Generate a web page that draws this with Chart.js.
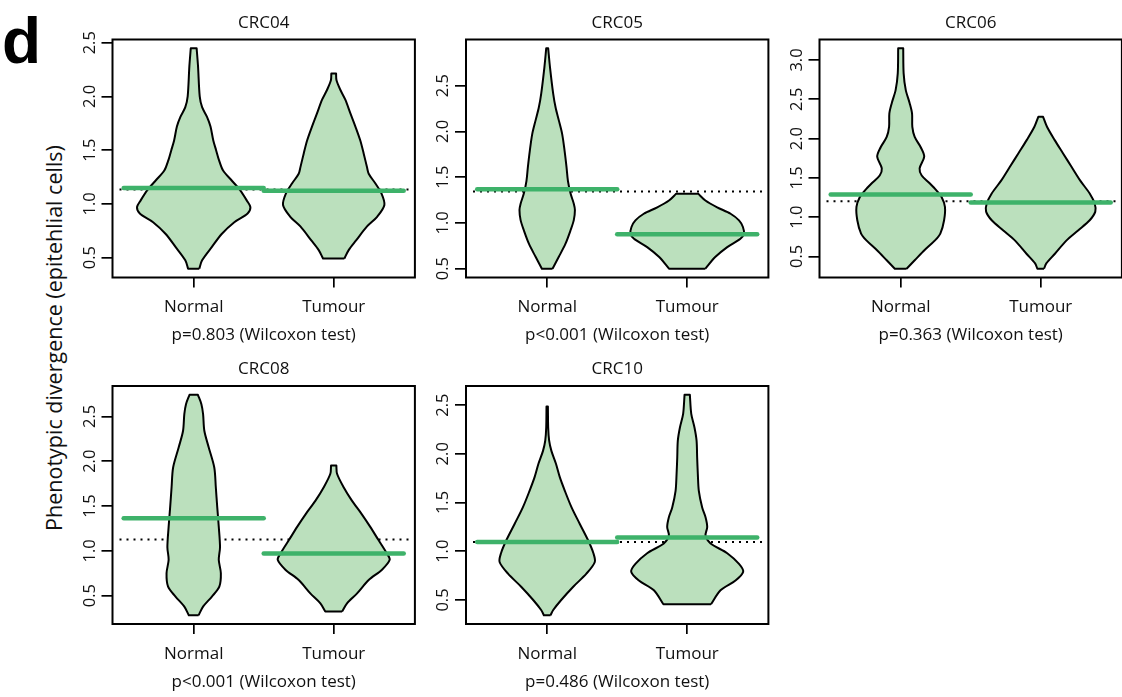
<!DOCTYPE html>
<html>
<head>
<meta charset="utf-8">
<title>Phenotypic divergence of epithelial cells</title>
<script src="https://cdn.jsdelivr.net/npm/chart.js@4.4.1/dist/chart.umd.min.js"></script>
<style>
  html, body { margin: 0; padding: 0; background: #fff; overflow: hidden; }
  #fig { position: relative; width: 1122px; height: 697px; overflow: hidden; font-family: "Open Sans", sans-serif; color: #111; }
  #fig canvas { position: absolute; }
  #tag { position: absolute; left: 2px; top: 9px; font: bold 64px/64px "Liberation Sans", Arial, sans-serif; color: #000; }
  #ylab { position: absolute; left: 53px; top: 338px; transform: translate(-50%, -50%) rotate(-90deg); white-space: nowrap; font-size: 21.5px; }
</style>
</head>
<body>
<div id="fig">
  <div id="tag">d</div>
  <div id="ylab">Phenotypic divergence (epitehlial cells)</div>
</div>
<script>
// ---- data -------------------------------------------------------------
const panelNames = ['CRC04', 'CRC05', 'CRC06', 'CRC08', 'CRC10'];
const groupNames = ['Normal', 'Tumour'];
const testLabels = [
  'p=0.803 (Wilcoxon test)',
  'p<0.001 (Wilcoxon test)',
  'p=0.363 (Wilcoxon test)',
  'p<0.001 (Wilcoxon test)',
  'p=0.486 (Wilcoxon test)'
];

// Violin outlines: divergence level (Y) and density half-width (W, in group units)
const crc04NormalY = [0.397, 0.475, 0.60, 0.72, 0.83, 0.91, 0.97, 1.03, 1.13, 1.22, 1.31, 1.41, 1.50, 1.59, 1.72, 1.81, 1.90, 2.00, 2.28, 2.448];
const crc04NormalW = [0.040, 0.060, 0.130, 0.200, 0.290, 0.385, 0.405, 0.380, 0.330, 0.270, 0.210, 0.180, 0.160, 0.140, 0.120, 0.095, 0.060, 0.043, 0.031, 0.021];
const crc04TumourY = [0.491, 0.57, 0.66, 0.79, 0.88, 0.99, 1.10, 1.19, 1.28, 1.34, 1.47, 1.59, 1.72, 1.84, 1.97, 2.06, 2.15, 2.214];
const crc04TumourW = [0.076, 0.107, 0.160, 0.238, 0.310, 0.362, 0.340, 0.298, 0.250, 0.238, 0.214, 0.190, 0.155, 0.120, 0.083, 0.048, 0.020, 0.017];

const crc05NormalY = [0.50, 0.63, 0.77, 0.92, 1.03, 1.14, 1.21, 1.32, 1.46, 1.61, 1.79, 1.97, 2.12, 2.26, 2.41, 2.70, 2.907];
const crc05NormalW = [0.038, 0.083, 0.130, 0.167, 0.190, 0.198, 0.190, 0.167, 0.148, 0.138, 0.124, 0.107, 0.083, 0.060, 0.043, 0.020, 0.007];
const crc05TumourY = [0.50, 0.627, 0.736, 0.827, 0.88, 0.955, 1.027, 1.10, 1.17, 1.245, 1.318];
const crc05TumourW = [0.130, 0.200, 0.286, 0.380, 0.405, 0.398, 0.370, 0.310, 0.214, 0.130, 0.079];

const crc06NormalY = [0.343, 0.45, 0.58, 0.70, 0.79, 0.96, 1.13, 1.256, 1.34, 1.43, 1.53, 1.62, 1.77, 1.89, 2.02, 2.15, 2.32, 2.45, 2.62, 2.83, 3.149];
const crc06NormalW = [0.042, 0.100, 0.171, 0.243, 0.283, 0.310, 0.316, 0.292, 0.255, 0.207, 0.150, 0.135, 0.168, 0.143, 0.100, 0.083, 0.081, 0.064, 0.036, 0.021, 0.018];
const crc06TumourY = [0.343, 0.41, 0.53, 0.70, 0.83, 0.96, 1.07, 1.17, 1.30, 1.47, 1.64, 1.81, 1.98, 2.15, 2.277];
const crc06TumourW = [0.024, 0.040, 0.100, 0.183, 0.267, 0.350, 0.390, 0.386, 0.350, 0.280, 0.220, 0.160, 0.100, 0.045, 0.017];

const crc08NormalY = [0.282, 0.38, 0.49, 0.60, 0.75, 0.90, 1.04, 1.27, 1.49, 1.71, 1.93, 2.156, 2.34, 2.526, 2.637, 2.741];
const crc08NormalW = [0.035, 0.068, 0.130, 0.183, 0.194, 0.179, 0.188, 0.179, 0.168, 0.158, 0.147, 0.107, 0.076, 0.067, 0.055, 0.030];
const crc08TumourY = [0.322, 0.415, 0.526, 0.674, 0.79, 0.90, 0.97, 1.12, 1.27, 1.41, 1.56, 1.71, 1.86, 1.952];
const crc08TumourW = [0.060, 0.095, 0.167, 0.250, 0.345, 0.400, 0.380, 0.320, 0.260, 0.200, 0.130, 0.071, 0.024, 0.019];

const crc10NormalY = [0.344, 0.397, 0.50, 0.636, 0.77, 0.89, 0.98, 1.11, 1.28, 1.45, 1.62, 1.76, 1.90, 2.03, 2.135, 2.27, 2.486];
const crc10NormalW = [0.024, 0.043, 0.100, 0.186, 0.280, 0.340, 0.330, 0.293, 0.233, 0.174, 0.126, 0.090, 0.062, 0.030, 0.014, 0.007, 0.005];
const crc10TumourY = [0.456, 0.60, 0.70, 0.79, 0.87, 0.98, 1.08, 1.16, 1.25, 1.35, 1.45, 1.62, 1.79, 1.965, 2.135, 2.27, 2.41, 2.605];
const crc10TumourW = [0.170, 0.238, 0.345, 0.400, 0.370, 0.286, 0.167, 0.131, 0.143, 0.131, 0.107, 0.083, 0.076, 0.071, 0.067, 0.052, 0.029, 0.019];

// Group levels (thick green bars) and the pooled level (dotted line)
const levelNormal = [1.147, 1.368, 1.287, 1.363, 1.095];
const levelTumour = [1.123, 0.877, 1.185, 0.971, 1.140];
const levelPooled = [1.135, 1.343, 1.201, 1.127, 1.096];

// Y-axis tick values per panel
const yTicks04 = [0.5, 1.0, 1.5, 2.0, 2.5];
const yTicks05 = [0.5, 1.0, 1.5, 2.0, 2.5];
const yTicks06 = [0.5, 1.0, 1.5, 2.0, 2.5, 3.0];
const yTicks08 = [0.5, 1.0, 1.5, 2.0, 2.5];
const yTicks10 = [0.5, 1.0, 1.5, 2.0, 2.5];

// ---- assembly -----------------------------------------------------------
const violinSets = [
  [[crc04NormalY, crc04NormalW], [crc04TumourY, crc04TumourW]],
  [[crc05NormalY, crc05NormalW], [crc05TumourY, crc05TumourW]],
  [[crc06NormalY, crc06NormalW], [crc06TumourY, crc06TumourW]],
  [[crc08NormalY, crc08NormalW], [crc08TumourY, crc08TumourW]],
  [[crc10NormalY, crc10NormalW], [crc10TumourY, crc10TumourW]]
];
const yTickSets = [yTicks04, yTicks05, yTicks06, yTicks08, yTicks10];

const FONT = "'Open Sans', sans-serif";
const INK = '#111';
const VIOLIN_FILL = 'rgb(187,224,189)';
const LEVEL_GREEN = 'rgb(62,178,106)';

Chart.defaults.font.family = FONT;
Chart.defaults.color = INK;

// closed outline: right flank upwards, left flank downwards; corner points doubled to keep flat ends square
function outline(centre, ys, ws) {
  const n = ys.length;
  const pts = [];
  for (let i = 0; i < n; i++) pts.push({ x: centre + ws[i], y: ys[i] });
  pts.push({ x: centre + ws[n - 1], y: ys[n - 1] });
  pts.push({ x: centre - ws[n - 1], y: ys[n - 1] });
  for (let i = n - 1; i >= 0; i--) pts.push({ x: centre - ws[i], y: ys[i] });
  pts.push({ x: centre - ws[0], y: ys[0] });
  pts.push({ x: centre + ws[0], y: ys[0] });
  return pts;
}

const framePlugin = {
  id: 'frame',
  afterDraw(chart) {
    const { ctx, chartArea: a } = chart;
    ctx.save();
    ctx.strokeStyle = '#000';
    ctx.lineWidth = 2;
    ctx.strokeRect(a.left, a.top, a.right - a.left, a.bottom - a.top);
    ctx.restore();
  }
};

const colLeft = [112.5, 466, 819.5];
const rowTop = [39.5, 386];
const AREA_W = 302.4, AREA_H = 238;
const CANVAS_W = 404, CANVAS_H = 348;
const X_MIN = 0.42, X_MAX = 2.58;

const fig = document.getElementById('fig');

panelNames.forEach((name, p) => {
  const col = p % 3, row = Math.floor(p / 3);
  const left = Math.floor(colLeft[col] - 75);
  const top = Math.floor(rowTop[row] - 40);
  const yAxisW = colLeft[col] - left;
  const topH = rowTop[row] - top;
  const xAxisH = CANVAS_H - topH - AREA_H;

  const canvas = document.createElement('canvas');
  canvas.width = CANVAS_W;
  canvas.height = CANVAS_H;
  canvas.style.left = left + 'px';
  canvas.style.top = top + 'px';
  canvas.style.width = CANVAS_W + 'px';
  canvas.style.height = CANVAS_H + 'px';
  fig.appendChild(canvas);

  // y range: violin extent padded by 4% on each side
  let lo = Infinity, hi = -Infinity;
  violinSets[p].forEach(([ys]) => { lo = Math.min(lo, ...ys); hi = Math.max(hi, ...ys); });
  const pad = 0.04 * (hi - lo);

  const datasets = [];
  [levelNormal[p], levelTumour[p]].forEach((lv, g) => {
    datasets.push({
      data: [{ x: g + 0.5, y: lv }, { x: g + 1.5, y: lv }],
      borderColor: LEVEL_GREEN, borderWidth: 4.5, borderCapStyle: 'round',
      pointRadius: 0, fill: false, tension: 0, order: 0
    });
  });
  violinSets[p].forEach(([ys, ws], g) => {
    datasets.push({
      data: outline(g + 1, ys, ws),
      borderColor: '#000', borderWidth: 2, backgroundColor: VIOLIN_FILL,
      fill: 'shape', pointRadius: 0, tension: 0.3, borderJoinStyle: 'round', order: 1
    });
  });
  datasets.push({
    data: [{ x: 0.47, y: levelPooled[p] }, { x: 2.55, y: levelPooled[p] }],
    borderColor: '#000', borderWidth: 2, borderDash: [2, 5],
    pointRadius: 0, fill: false, tension: 0, order: 2
  });

  new Chart(canvas, {
    type: 'line',
    data: { datasets },
    plugins: [framePlugin],
    options: {
      responsive: false,
      animation: false,
      events: [],
      layout: { padding: { left: 0, top: 0, bottom: 0, right: CANVAS_W - yAxisW - AREA_W } },
      plugins: {
        legend: { display: false },
        tooltip: { enabled: false }
      },
      scales: {
        // top axis carries only the panel name, centred over the plot frame
        head: {
          type: 'linear', position: 'top', min: X_MIN, max: X_MAX,
          afterFit: s => { s.height = topH; },
          ticks: { display: false },
          grid: { display: false, drawTicks: false },
          border: { display: false },
          title: {
            display: true, text: name, color: INK,
            font: { size: 17, lineHeight: 1.2 },
            padding: { top: topH - 27, bottom: 0 }
          }
        },
        x: {
          type: 'linear', min: X_MIN, max: X_MAX,
          afterBuildTicks: s => { s.ticks = groupNames.map((_, i) => ({ value: i + 1 })); },
          afterFit: s => { s.height = xAxisH; },
          ticks: {
            callback: v => groupNames[Math.round(v) - 1],
            font: { size: 17 }, color: INK, padding: 9.5,
            maxRotation: 0, autoSkip: false
          },
          grid: { drawOnChartArea: false, drawTicks: true, tickLength: 10, color: '#000', lineWidth: 1.7 },
          border: { display: false },
          title: {
            display: true, text: testLabels[p], color: INK,
            font: { size: 17, lineHeight: 1.2 },
            padding: { top: 0, bottom: xAxisH - 10.2 - 57.9 }
          }
        },
        y: {
          type: 'linear', min: lo - pad, max: hi + pad,
          afterBuildTicks: s => { s.ticks = yTickSets[p].map(v => ({ value: v })); },
          afterFit: s => { s.width = yAxisW; },
          ticks: {
            callback: v => Number(v).toFixed(1),
            minRotation: 90, maxRotation: 90, crossAlign: 'center',
            padding: 0, font: { size: 16.5 }, color: INK, autoSkip: false
          },
          grid: { drawOnChartArea: false, drawTicks: true, tickLength: 11, color: '#000', lineWidth: 1.7 },
          border: { display: false }
        }
      }
    }
  });
});
</script>
</body>
</html>
